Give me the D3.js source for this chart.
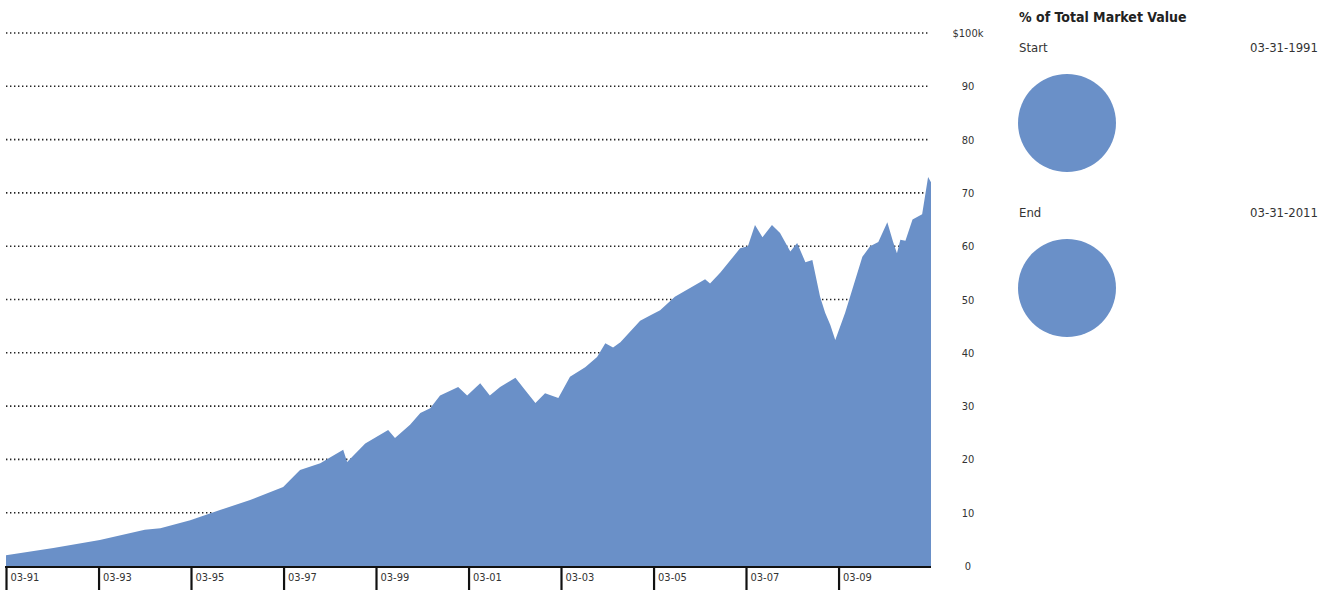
<!DOCTYPE html>
<html>
<head>
<meta charset="utf-8">
<script src="https://cdn.jsdelivr.net/npm/d3@7"></script>
<style>
  html, body { margin: 0; padding: 0; background: #fff; }
  svg { display: block; }
  text { font-family: "Liberation Sans Narrow", "DejaVu Sans Condensed", "Roboto Condensed", sans-serif; }
</style>
</head>
<body>
<svg id="chart" width="1332" height="592"></svg>
<script>
// ---- data ----
const dates = [
  "1991-03-31","1992-04-08","1993-04-10","1994-03-31","1994-08-01","1995-03-25","1995-11-15",
  "1996-07-10","1997-03-28","1997-08-08","1998-01-15","1998-04-05","1998-07-15","1998-08-15",
  "1999-01-05","1999-07-05","1999-08-28","1999-12-25","2000-03-15","2000-06-01","2000-08-18",
  "2001-01-08","2001-03-20","2001-07-01","2001-09-15","2001-12-05","2002-04-05","2002-06-20",
  "2002-09-10","2002-11-25","2003-03-10","2003-06-10","2003-10-08","2004-01-10","2004-03-15",
  "2004-05-15","2004-07-12","2004-12-15","2005-03-03","2005-05-22","2005-09-15","2006-04-05",
  "2006-05-12","2006-06-20","2006-09-08","2007-02-12","2007-04-15","2007-06-10","2007-08-08",
  "2007-10-22","2007-12-25","2008-03-15","2008-05-08","2008-07-12","2008-09-05","2008-11-05",
  "2008-12-15","2009-01-25","2009-03-05","2009-05-22","2009-08-10","2009-10-05","2009-12-05",
  "2010-02-08","2010-04-20","2010-06-05","2010-07-05","2010-08-01","2010-09-10","2010-11-05",
  "2011-01-20","2011-03-08","2011-03-31"
];
const values = [
  2.0, 3.4, 4.9, 6.8, 7.1, 8.6, 10.5,
  12.4, 14.8, 18.0, 19.3, 20.4, 21.8, 19.5,
  23.0, 25.5, 24.0, 26.5, 28.7, 29.6, 32.0,
  33.6, 32.0, 34.3, 32.0, 33.6, 35.3, 33.0,
  30.6, 32.4, 31.5, 35.5, 37.3, 39.2, 41.8,
  41.0, 42.0, 46.0, 47.0, 48.0, 50.5, 53.3,
  53.8, 53.0, 55.0, 59.6, 60.0, 64.0, 61.7,
  64.0, 62.5, 59.0, 60.6, 57.0, 57.4, 50.5,
  47.5, 45.2, 42.4, 47.5, 53.7, 58.0, 60.0,
  60.8, 64.5, 60.8, 58.7, 61.2, 61.0, 65.0,
  66.0, 73.0, 72.0
];
const xTickLabels = ["03-91","03-93","03-95","03-97","03-99","03-01","03-03","03-05","03-07","03-09"];
const xTickDates = ["1991-03-31","1993-03-31","1995-03-31","1997-03-31","1999-03-31","2001-03-31","2003-03-31","2005-03-31","2007-03-31","2009-03-31"];
const yTicks = [0,10,20,30,40,50,60,70,80,90,100];
const yTickLabels = ["0","10","20","30","40","50","60","70","80","90","$100k"];
const panelTitle = "% of Total Market Value";
const pieNames = ["Start","End"];
const pieDates = ["03-31-1991","03-31-2011"];
const pieShares = [[100],[100]];

// ---- drawing ----
const parse = d3.timeParse("%Y-%m-%d");
const series = dates.map((d,i) => ({date: parse(d), value: values[i]}));
const svg = d3.select("#chart");
const fill = "#6a90c8";

const x = d3.scaleTime()
  .domain([parse("1991-03-31"), parse("2011-03-31")])
  .range([6, 931]);
const y = d3.scaleLinear().domain([0,100]).range([566, 33]);

// gridlines
svg.append("g").selectAll("line")
  .data(yTicks.filter(t => t > 0))
  .join("line")
  .attr("x1", 6).attr("x2", 930)
  .attr("y1", d => y(d)).attr("y2", d => y(d))
  .attr("stroke", "#222").attr("stroke-width", 1.6)
  .attr("stroke-dasharray", "1.4,2.6");

// area
const area = d3.area()
  .x(d => x(d.date))
  .y0(y(0))
  .y1(d => y(d.value))
  .curve(d3.curveLinear);
svg.append("path").datum(series)
  .attr("d", area)
  .attr("fill", fill);

// y labels
svg.append("g").selectAll("text")
  .data(yTicks)
  .join("text")
  .attr("x", 968).attr("y", d => y(d) + 4)
  .attr("text-anchor", "middle")
  .attr("font-size", 11)
  .attr("fill", "#333")
  .text((d,i) => yTickLabels[i]);

// x axis
const xAxis = d3.axisBottom(x)
  .tickValues(xTickDates.map(parse))
  .tickSize(0)
  .tickFormat((d,i) => xTickLabels[i]);
const gx = svg.append("g").attr("transform", `translate(0,${y(0)+1})`).call(xAxis);
gx.select(".domain").remove();
gx.append("line").attr("x1", 5).attr("x2", 931).attr("y1", 0).attr("y2", 0)
  .attr("stroke", "#111").attr("stroke-width", 2);
gx.selectAll(".tick line").remove();
gx.selectAll(".tick").append("line")
  .attr("x1", 0).attr("x2", 0).attr("y1", 0).attr("y2", 23)
  .attr("stroke", "#111").attr("stroke-width", 2.2);
gx.selectAll(".tick text")
  .attr("x", 4).attr("y", 14).attr("dy", "0")
  .attr("text-anchor", "start")
  .attr("font-size", 11)
  .attr("font-family", null)
  .attr("fill", "#333");

// right panel
svg.append("text").attr("x", 1019).attr("y", 22)
  .attr("font-size", 14).attr("font-weight", "bold").attr("fill", "#222")
  .text(panelTitle);

const pie = d3.pie().sort(null);
const arc = d3.arc().innerRadius(0).outerRadius(49);
const panelY = [52, 217];
pieNames.forEach((name, i) => {
  svg.append("text").attr("x", 1019).attr("y", panelY[i])
    .attr("font-size", 13).attr("fill", "#333").text(name);
  svg.append("text").attr("x", 1318).attr("y", panelY[i])
    .attr("text-anchor", "end")
    .attr("font-size", 13).attr("fill", "#333").text(pieDates[i]);
  svg.append("g").attr("transform", `translate(1067,${panelY[i] + 71})`)
    .selectAll("path").data(pie(pieShares[i])).join("path")
    .attr("d", arc).attr("fill", fill);
});
</script>
</body>
</html>
